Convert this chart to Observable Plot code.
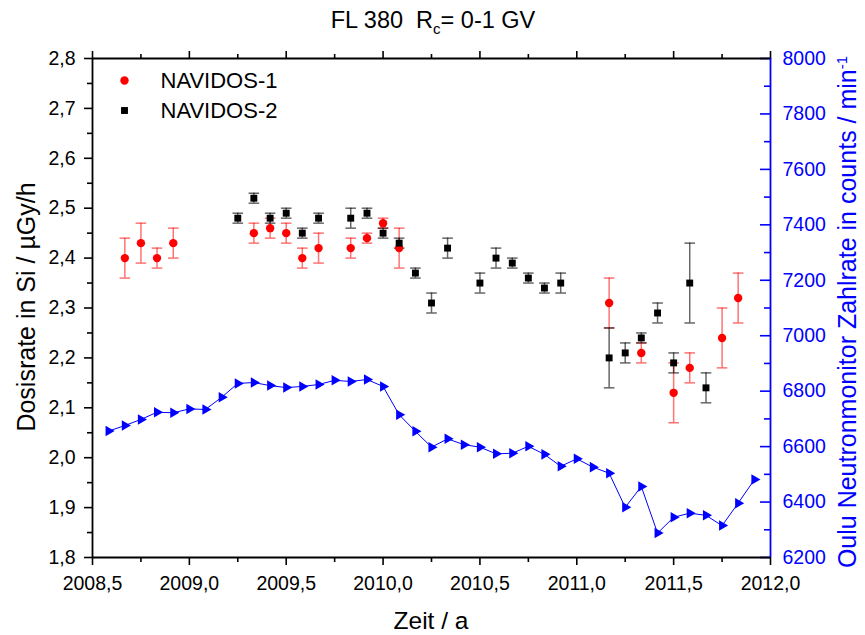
<!DOCTYPE html>
<html><head><meta charset="utf-8">
<script src="https://cdn.jsdelivr.net/npm/d3@7"></script>
<script src="https://cdn.jsdelivr.net/npm/@observablehq/plot@0.6"></script>
<style>
html,body{margin:0;padding:0;background:#fff;}
#chart{position:relative;width:865px;height:635px;}
</style>
</head><body><div id="chart"></div>
<script>
// NAVIDOS-1 (red circles)
const n1Year = [2008.667, 2008.75, 2008.833, 2008.917, 2009.333, 2009.417, 2009.5, 2009.583, 2009.667, 2009.833, 2009.917, 2010.0, 2010.083, 2011.167, 2011.333, 2011.5, 2011.583, 2011.75, 2011.833];
const n1Dose = [2.40, 2.43, 2.40, 2.43, 2.45, 2.46, 2.45, 2.40, 2.42, 2.42, 2.44, 2.47, 2.42, 2.31, 2.21, 2.13, 2.18, 2.24, 2.32];
const n1Err  = [0.04, 0.04, 0.02, 0.03, 0.02, 0.02, 0.02, 0.02, 0.03, 0.02, 0.01, 0.01, 0.04, 0.05, 0.02, 0.06, 0.03, 0.06, 0.05];
// NAVIDOS-2 (black squares)
const n2Year = [2009.25, 2009.333, 2009.417, 2009.5, 2009.583, 2009.667, 2009.833, 2009.917, 2010.0, 2010.083, 2010.167, 2010.25, 2010.333, 2010.5, 2010.583, 2010.667, 2010.75, 2010.833, 2010.917, 2011.167, 2011.25, 2011.333, 2011.417, 2011.5, 2011.583, 2011.667];
const n2Dose = [2.48, 2.52, 2.48, 2.49, 2.45, 2.48, 2.48, 2.49, 2.45, 2.43, 2.37, 2.31, 2.42, 2.35, 2.40, 2.39, 2.36, 2.34, 2.35, 2.20, 2.21, 2.24, 2.29, 2.19, 2.35, 2.14];
const n2Err  = [0.01, 0.01, 0.01, 0.01, 0.01, 0.01, 0.02, 0.01, 0.01, 0.01, 0.01, 0.02, 0.02, 0.02, 0.02, 0.01, 0.01, 0.01, 0.02, 0.06, 0.02, 0.01, 0.02, 0.02, 0.08, 0.03];
// Oulu neutron monitor count rate (counts/min)
const nmYear = [2008.583, 2008.667, 2008.75, 2008.833, 2008.917, 2009.0, 2009.083, 2009.167, 2009.25, 2009.333, 2009.417, 2009.5, 2009.583, 2009.667, 2009.75, 2009.833, 2009.917, 2010.0, 2010.083, 2010.167, 2010.25, 2010.333, 2010.417, 2010.5, 2010.583, 2010.667, 2010.75, 2010.833, 2010.917, 2011.0, 2011.083, 2011.167, 2011.25, 2011.333, 2011.417, 2011.5, 2011.583, 2011.667, 2011.75, 2011.833, 2011.917];
const nmRate = [6656, 6676, 6698, 6724, 6722, 6736, 6734, 6778, 6828, 6831, 6820, 6813, 6817, 6824, 6839, 6835, 6842, 6817, 6715, 6655, 6598, 6628, 6607, 6598, 6574, 6576, 6601, 6572, 6529, 6556, 6526, 6504, 6381, 6456, 6288, 6345, 6360, 6352, 6315, 6396, 6481];

// axes ticks
const xTicks = [2008.5, 2009.0, 2009.5, 2010.0, 2010.5, 2011.0, 2011.5, 2012.0];
const xMinor = [2008.75, 2009.25, 2009.75, 2010.25, 2010.75, 2011.25, 2011.75];
const yTicks = [1.8, 1.9, 2.0, 2.1, 2.2, 2.3, 2.4, 2.5, 2.6, 2.7, 2.8];
const yMinor = [1.85, 1.95, 2.05, 2.15, 2.25, 2.35, 2.45, 2.55, 2.65, 2.75];
const rTicks = [6200, 6400, 6600, 6800, 7000, 7200, 7400, 7600, 7800, 8000];
const rMinor = [6300, 6500, 6700, 6900, 7100, 7300, 7500, 7700, 7900];

const seriesNames = ["NAVIDOS-1", "NAVIDOS-2"];
const xDomain = [2008.5, 2012.0];
const yDomain = [1.8, 2.8];
const rDomain = [6200, 8000];

const RED = "#ff0000", BLUE = "#0000ff", BLACK = "#000000";
const FONT = "'Liberation Sans', Arial, sans-serif";

// map right-axis values onto the left scale
const toLeft = v => yDomain[0] + (v - rDomain[0]) * (yDomain[1] - yDomain[0]) / (rDomain[1] - rDomain[0]);
const fromLeft = y => rDomain[0] + (y - yDomain[0]) * (rDomain[1] - rDomain[0]) / (yDomain[1] - yDomain[0]);
const comma = (d, k) => d.toFixed(k).replace(".", ",");

const n1 = n1Year.map((x, i) => ({x, y: n1Dose[i], e: n1Err[i]}));
const n2 = n2Year.map((x, i) => ({x, y: n2Dose[i], e: n2Err[i]}));
const nm = nmYear.map((x, i) => ({x, y: toLeft(nmRate[i])}));

const cap = {draw(ctx) { ctx.moveTo(-5.3, 0); ctx.lineTo(5.3, 0); }};

function errMarks(data, color, op) {
  return [
    Plot.ruleX(data, {x: "x", y1: d => d.y - d.e, y2: d => d.y + d.e, stroke: color, strokeOpacity: op, strokeWidth: 1.5}),
    Plot.dot(data, {x: "x", y: d => d.y - d.e, symbol: cap, stroke: color, strokeOpacity: op, fill: "none", strokeWidth: 1.5}),
    Plot.dot(data, {x: "x", y: d => d.y + d.e, symbol: cap, stroke: color, strokeOpacity: op, fill: "none", strokeWidth: 1.5})
  ];
}

const chart = Plot.plot({
  width: 865, height: 635,
  marginLeft: 92, marginRight: 95, marginTop: 58, marginBottom: 78,
  x: {domain: xDomain},
  y: {domain: yDomain},
  style: {fontFamily: FONT, fontSize: "19.5px", background: "white", color: "black", overflow: "visible"},
  marks: [
    // bottom axis
    Plot.axisX({anchor: "bottom", ticks: xTicks, tickSize: 8, tickPadding: 11, tickFormat: d => comma(d, 1), label: null, strokeWidth: 1.6}),
    Plot.axisX({anchor: "bottom", ticks: xMinor, tickSize: 5, tickFormat: () => "", label: null, strokeWidth: 1.6}),
    // top axis
    Plot.axisX({anchor: "top", ticks: xTicks, tickSize: 8, tickFormat: () => "", label: null, strokeWidth: 1.6}),
    Plot.axisX({anchor: "top", ticks: xMinor, tickSize: 5, tickFormat: () => "", label: null, strokeWidth: 1.6}),
    // left axis
    Plot.axisY({anchor: "left", ticks: yTicks, tickSize: 8, tickPadding: 9, tickFormat: d => comma(d, 1), label: null, strokeWidth: 1.6}),
    Plot.axisY({anchor: "left", ticks: yMinor, tickSize: 5, tickFormat: () => "", label: null, strokeWidth: 1.6}),
    // right axis (blue, ticks inward)
    Plot.axisY({anchor: "left", frameAnchor: "right", ticks: rTicks.map(toLeft), tickSize: 10, tickFormat: () => "", label: null, stroke: BLUE, strokeWidth: 1.6}),
    Plot.axisY({anchor: "left", frameAnchor: "right", ticks: rMinor.map(toLeft), tickSize: 6, tickFormat: () => "", label: null, stroke: BLUE, strokeWidth: 1.6}),
    Plot.axisY({anchor: "right", ticks: rTicks.map(toLeft), tickSize: 0, tickPadding: 12, tickFormat: d => String(Math.round(fromLeft(d))), label: null, fill: BLUE}),
    // frame lines
    Plot.ruleX([xDomain[0]], {stroke: BLACK, strokeWidth: 1.8}),
    Plot.ruleY([yDomain[0]], {stroke: BLACK, strokeWidth: 1.8}),
    Plot.ruleY([yDomain[1]], {stroke: BLACK, strokeWidth: 1.8}),
    Plot.ruleX([xDomain[1]], {stroke: BLUE, strokeWidth: 1.8}),
    // neutron monitor
    Plot.line(nm, {x: "x", y: "y", stroke: BLUE, strokeWidth: 1}),
    Plot.dot(nm, {x: "x", y: "y", symbol: "triangle", rotate: 90, fill: BLUE, stroke: "none", r: 3.9}),
    // dose rates
    ...errMarks(n1, RED, 0.55),
    ...errMarks(n2, BLACK, 0.6),
    Plot.dot(n1, {x: "x", y: "y", symbol: "circle", fill: RED, stroke: "none", r: 4.2}),
    Plot.dot(n2, {x: "x", y: "y", symbol: "square", fill: BLACK, stroke: "none", r: 3.9}),
    // legend
    Plot.dot([seriesNames[0]], {frameAnchor: "top-left", dx: 32, dy: 22, symbol: "circle", fill: RED, stroke: "none", r: 4.2}),
    Plot.dot([seriesNames[1]], {frameAnchor: "top-left", dx: 32, dy: 52, symbol: "square", fill: BLACK, stroke: "none", r: 3.9}),
    Plot.text([seriesNames[0]], {frameAnchor: "top-left", dx: 68, dy: 22, text: d => d, textAnchor: "start", lineAnchor: "middle", fontSize: 22, fill: BLACK}),
    Plot.text([seriesNames[1]], {frameAnchor: "top-left", dx: 68, dy: 52, text: d => d, textAnchor: "start", lineAnchor: "middle", fontSize: 22, fill: BLACK})
  ]
});

document.getElementById("chart").appendChild(chart);

// titles with sub/superscripts
const svg = d3.select(chart);
const t = svg.append("text").attr("x", 433).attr("y", 28).attr("text-anchor", "middle")
  .attr("font-family", FONT).attr("font-size", 23.5).attr("fill", BLACK);
t.append("tspan").attr("xml:space", "preserve").style("white-space", "pre").text("FL 380  R");
t.append("tspan").attr("font-size", 15).attr("dy", 6).text("c");
t.append("tspan").attr("dy", -6).text("= 0-1 GV");

svg.append("text").attr("transform", "translate(26,307) rotate(-90)").attr("text-anchor", "middle")
  .attr("dy", "0.35em").attr("font-family", FONT).attr("font-size", 25).attr("fill", BLACK)
  .text("Dosisrate in Si / µGy/h");

svg.append("text").attr("x", 431).attr("y", 629).attr("text-anchor", "middle")
  .attr("font-family", FONT).attr("font-size", 24.5).attr("fill", BLACK).text("Zeit / a");

const r = svg.append("text").attr("transform", "translate(847,312) rotate(-90)").attr("text-anchor", "middle")
  .attr("dy", "0.35em").attr("font-family", FONT).attr("font-size", 25).attr("fill", BLUE);
r.append("tspan").text("Oulu Neutronmonitor Zahlrate in counts / min");
r.append("tspan").attr("font-size", 15).attr("dy", -9).text("-1");
</script>
</body></html>
